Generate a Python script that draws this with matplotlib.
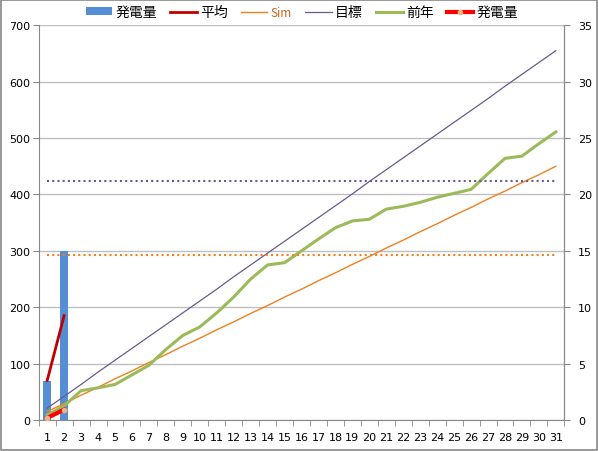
import matplotlib.pyplot as plt
import numpy as np

plt.rcParams['font.family'] = ['DejaVu Sans', 'Noto Sans CJK JP']

days = list(range(1, 32))
# daily generation (bars), only first two days so far
gen_days = [1, 2]
gen = [70, 300]
# running average
avg = [70, 185]
# cumulative generation (thick red line)
cum = [3.5, 18.5]
sim = [15, 29, 44, 58, 73, 87, 102, 116, 131, 145, 160, 174, 189, 203, 218, 232,
       247, 261, 276, 290, 305, 319, 334, 348, 363, 377, 392, 406, 421, 435, 450]
target = [21, 42, 63, 85, 106, 127, 148, 169, 190, 211, 232, 254, 275, 296, 317, 338,
          359, 380, 401, 423, 444, 465, 486, 507, 528, 549, 570, 592, 613, 634, 655]
prev = [9, 25, 52, 57, 63, 80, 97, 125, 150, 165, 190, 218, 250, 275, 279, 300,
        321, 341, 353, 356, 374, 379, 386, 395, 402, 409, 437, 464, 468, 490, 511]
target_level = 423
sim_level = 292

fig = plt.figure(figsize=(5.98, 4.52), dpi=100)
fig.patches.append(plt.Rectangle((0.002, 0.002), 0.996, 0.996, transform=fig.transFigure,
                                 fill=False, edgecolor='#888888', linewidth=1.2))
ax = fig.add_axes([0.0647, 0.0686, 0.8790, 0.8732])

ax.set_xlim(0.5, 31.5)
ax.set_ylim(0, 700)
ax.set_yticks(np.arange(0, 701, 100))
ax.yaxis.grid(True, color='#bfbfbf', linewidth=1)
ax.set_axisbelow(True)

b = ax.bar(gen_days, gen, width=0.47, color='#558ED5', label='発電量', zorder=2)
l1, = ax.plot(gen_days, avg, color='#C00000', linewidth=2, label='平均', zorder=4)
l2, = ax.plot(days, sim, color='#F0801E', linewidth=1, label='Sim', zorder=3)
l3, = ax.plot(days, target, color='#6A5A8C', linewidth=0.9, label='目標', zorder=3)
l4, = ax.plot(days, prev, color='#9BBB59', linewidth=2.2, label='前年', zorder=3)
ax.plot(days, [sim_level] * len(days), color='#F0801E', linewidth=1.5, linestyle=(0, (1, 1.5)), zorder=3)
ax.plot(days, [target_level] * len(days), color='#6A5A8C', linewidth=1.5, linestyle=(0, (1, 1.5)), zorder=3)
l5, = ax.plot(gen_days, cum, color='#FF0000', linewidth=3, marker='o', markersize=3,
              markerfacecolor='#F4B183', markeredgecolor='#F4B183', label='発電量', zorder=5)

ax.set_xticks(days)
ax.set_xticks(np.arange(0.5, 31.6, 1), minor=True)
ax.tick_params(axis='x', which='major', length=0, labelsize=8, pad=9)
ax.tick_params(axis='x', which='minor', length=4, color='#888888', direction='out')
ax.tick_params(axis='y', length=4, color='#888888', labelsize=8, pad=2)

for s in ['top']:
    ax.spines[s].set_visible(False)
for s in ['left', 'bottom', 'right']:
    ax.spines[s].set_color('#888888')

ax2 = ax.twinx()
ax2.set_ylim(0, 35)
ax2.set_yticks(np.arange(0, 36, 5))
ax2.tick_params(axis='y', length=4, color='#888888', labelsize=8, pad=6)
ax2.spines['top'].set_visible(False)
ax2.spines['right'].set_color('#888888')
ax2.spines['left'].set_visible(False)
ax2.spines['bottom'].set_visible(False)

leg = fig.legend([b, l1, l2, l3, l4, l5], ['発電量', '平均', 'Sim', '目標', '前年', '発電量'],
                 loc='upper center', bbox_to_anchor=(0.505, 1.014), ncol=6, frameon=False,
                 prop={'family': ['Noto Sans CJK JP', 'DejaVu Sans'], 'size': 10},
                 handlelength=1.9, handleheight=0.5, handletextpad=0.25, columnspacing=0.95)
leg.get_texts()[2].set_color('#D0601A')
leg.get_texts()[2].set_fontsize(8.5)

fig.savefig('out.png', dpi=100)
